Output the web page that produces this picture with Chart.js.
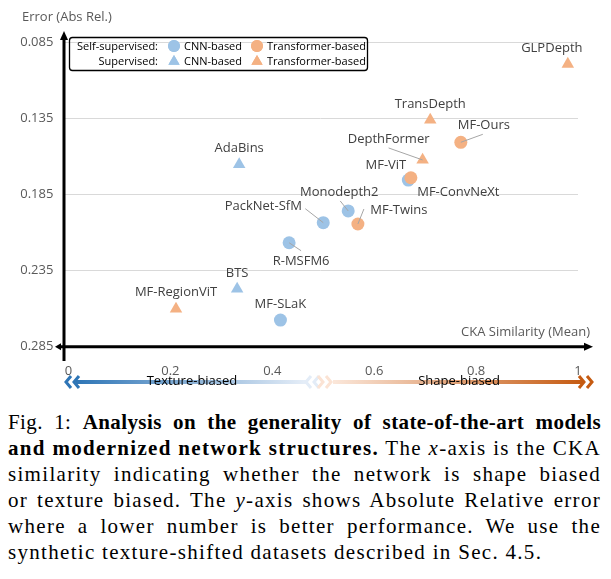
<!DOCTYPE html>
<html>
<head>
<meta charset="utf-8">
<script src="https://cdn.jsdelivr.net/npm/chart.js@4.4.0/dist/chart.umd.min.js"></script>
<style>
  body { margin: 0; background: #fff; width: 611px; height: 579px; overflow: hidden; }
  #wrap { position: relative; width: 611px; height: 398px; }
  #caption {
    position: absolute; left: 8px; top: 409px; width: 593px;
    font-family: "Liberation Serif", serif; font-size: 21px; line-height: 26px;
    letter-spacing: 1.3px; color: #000;
  }
  #caption div { text-align: justify; text-align-last: justify; white-space: nowrap; }
  #caption div.first { letter-spacing: 0.4px; }
  #caption div.last { text-align-last: left; }
</style>
</head>
<body>
<div id="wrap"><canvas id="chart" width="611" height="398"></canvas></div>
<div id="caption">
  <div class="first">Fig. 1: <b>Analysis on the generality of state-of-the-art models</b></div>
  <div><b>and modernized network structures.</b> The <i>x</i>-axis is the CKA</div>
  <div>similarity indicating whether the network is shape biased</div>
  <div>or texture biased. The <i>y</i>-axis shows Absolute Relative error</div>
  <div>where a lower number is better performance. We use the</div>
  <div class="last">synthetic texture-shifted datasets described in Sec. 4.5.</div>
</div>
<script>
// values
const selfTransNames = ['MF-Ours', 'MF-ViT', 'MF-Twins'];
const selfTransX = [0.770, 0.672, 0.568];
const selfTransY = [0.1507, 0.1740, 0.2044];

const selfCnnNames = ['MF-ConvNeXt', 'Monodepth2', 'PackNet-SfM', 'R-MSFM6', 'MF-SLaK'];
const selfCnnX = [0.667, 0.549, 0.500, 0.433, 0.416];
const selfCnnY = [0.1755, 0.1958, 0.2035, 0.2167, 0.2675];

const supTransNames = ['GLPDepth', 'TransDepth', 'DepthFormer', 'MF-RegionViT'];
const supTransX = [0.980, 0.710, 0.695, 0.211];
const supTransY = [0.0993, 0.1360, 0.1623, 0.2602];

const supCnnNames = ['AdaBins', 'BTS'];
const supCnnX = [0.335, 0.331];
const supCnnY = [0.1652, 0.2471];

const xTicks = [0, 0.2, 0.4, 0.6, 0.8, 1];
const xTickLabels = ['0', '0.2', '0.4', '0.6', '0.8', '1'];
const yTicks = [0.085, 0.135, 0.185, 0.235, 0.285];
const yTickLabels = ['0.085', '0.135', '0.185', '0.235', '0.285'];

// where each name sits relative to its mark, plus optional leader line end
const labelLayout = {
  'GLPDepth':     { dx: -16, dy: -16 },
  'TransDepth':   { dx: 0,   dy: -16 },
  'MF-Ours':      { dx: 23,  dy: -17, leader: [22, -8] },
  'DepthFormer':  { dx: -34, dy: -21, leader: [-34, -12] },
  'MF-ViT':       { dx: -25, dy: -12 },
  'MF-ConvNeXt':  { dx: 50,  dy: 12 },
  'Monodepth2':   { dx: -9,  dy: -19, leader: [-8, -10] },
  'MF-Twins':     { dx: 41,  dy: -14, leader: [6, -15] },
  'PackNet-SfM':  { dx: -60, dy: -16, leader: [-18, -14] },
  'R-MSFM6':      { dx: 12,  dy: 19,  leader: [12, 8] },
  'BTS':          { dx: 0,   dy: -16 },
  'MF-RegionViT': { dx: 0,   dy: -17 },
  'MF-SLaK':      { dx: 0,   dy: -16 },
  'AdaBins':      { dx: 0,   dy: -16 }
};

const BLUE = '#9DC3E6';
const ORANGE = '#F4B183';
const FONT = '"Open Sans", sans-serif';

function points(xs, ys) {
  return xs.map((x, i) => ({ x: x, y: ys[i] }));
}

function dataset(names, xs, ys, color, style) {
  return {
    names: names,
    data: points(xs, ys),
    backgroundColor: color,
    borderWidth: 0,
    pointStyle: style,
    pointRadius: style === 'circle' ? 6.5 : 7.2,
    pointHoverRadius: style === 'circle' ? 6.5 : 7.2
  };
}

function chevron(ctx, x, y, dir, color) {
  ctx.strokeStyle = color;
  ctx.lineWidth = 3;
  ctx.beginPath();
  ctx.moveTo(x - dir * 4, y - 6);
  ctx.lineTo(x + dir * 1, y);
  ctx.lineTo(x - dir * 4, y + 6);
  ctx.stroke();
}

const decorations = {
  id: 'decorations',
  beforeDatasetsDraw(chart) {
    const ctx = chart.ctx;
    const a = chart.chartArea;
    const y0 = chart.scales.y.getPixelForValue(0.285);
    ctx.save();
    ctx.strokeStyle = '#000';
    ctx.fillStyle = '#000';
    ctx.lineWidth = 3;
    // y axis
    ctx.beginPath();
    ctx.moveTo(a.left + 0.6, 361);
    ctx.lineTo(a.left + 0.6, 38);
    ctx.stroke();
    ctx.beginPath();
    ctx.moveTo(a.left + 0.6, 31);
    ctx.lineTo(a.left - 3.4, 40);
    ctx.lineTo(a.left + 4.6, 40);
    ctx.fill();
    // x axis
    ctx.beginPath();
    ctx.moveTo(59, y0);
    ctx.lineTo(586, y0);
    ctx.stroke();
    ctx.beginPath();
    ctx.moveTo(593, y0);
    ctx.lineTo(584, y0 - 4);
    ctx.lineTo(584, y0 + 4);
    ctx.fill();
    ctx.beginPath();
    ctx.moveTo(55, y0);
    ctx.lineTo(61, y0 - 3.5);
    ctx.lineTo(61, y0 + 3.5);
    ctx.fill();
    ctx.restore();
  },
  afterDraw(chart) {
    const ctx = chart.ctx;
    ctx.save();

    // data labels
    ctx.font = '13px ' + FONT;
    ctx.textAlign = 'center';
    ctx.textBaseline = 'middle';
    chart.data.datasets.forEach((ds, i) => {
      const meta = chart.getDatasetMeta(i);
      meta.data.forEach((pt, j) => {
        const lay = labelLayout[ds.names[j]];
        if (lay.leader) {
          ctx.strokeStyle = '#A6A6A6';
          ctx.lineWidth = 1;
          ctx.beginPath();
          ctx.moveTo(pt.x, pt.y);
          ctx.lineTo(pt.x + lay.leader[0], pt.y + lay.leader[1]);
          ctx.stroke();
        }
        ctx.fillStyle = '#404040';
        ctx.fillText(ds.names[j], pt.x + lay.dx, pt.y + lay.dy);
      });
    });

    // axis titles
    ctx.fillStyle = '#595959';
    ctx.textAlign = 'left';
    ctx.fillText('Error (Abs Rel.)', 22, 17);
    ctx.textAlign = 'right';
    ctx.fillText('CKA Similarity (Mean)', 590, 332);

    // legend box
    ctx.strokeStyle = '#000';
    ctx.lineWidth = 1.3;
    ctx.beginPath();
    if (ctx.roundRect) ctx.roundRect(69.5, 37.5, 298, 33, 3);
    else ctx.rect(69.5, 37.5, 298, 33);
    ctx.stroke();
    ctx.font = '11px ' + FONT;
    ctx.fillStyle = '#000';
    ctx.textAlign = 'right';
    ctx.fillText('Self-supervised:', 158, 46.5);
    ctx.fillText('Supervised:', 158, 61.5);
    ctx.textAlign = 'left';
    ctx.fillText('CNN-based', 184, 46.5);
    ctx.fillText('CNN-based', 184, 61.5);
    ctx.fillText('Transformer-based', 267, 46.5);
    ctx.fillText('Transformer-based', 267, 61.5);
    const legendMarks = [
      ['circle', BLUE, 174, 46], ['circle', ORANGE, 257, 46],
      ['triangle', BLUE, 174, 61.5], ['triangle', ORANGE, 257, 61.5]
    ];
    legendMarks.forEach(m => {
      ctx.fillStyle = m[1];
      Chart.helpers.drawPoint(ctx, { pointStyle: m[0], radius: m[0] === 'circle' ? 6 : 6.5, borderWidth: 0 }, m[2], m[3]);
      ctx.fill();
    });

    // texture / shape bar
    const by = 382;
    let g = ctx.createLinearGradient(76, 0, 306, 0);
    g.addColorStop(0, '#2E75B6');
    g.addColorStop(1, '#E6EEF8');
    ctx.fillStyle = g;
    ctx.fillRect(76, by - 2, 230, 4);
    g = ctx.createLinearGradient(333, 0, 584, 0);
    g.addColorStop(0, '#FBE7DA');
    g.addColorStop(1, '#C55A11');
    ctx.fillStyle = g;
    ctx.fillRect(333, by - 2, 250, 4);
    chevron(ctx, 67, by, -1, '#2E75B6');
    chevron(ctx, 75, by, -1, '#2E75B6');
    chevron(ctx, 307, by, -1, '#E3ECF7');
    chevron(ctx, 315, by, -1, '#E3ECF7');
    chevron(ctx, 322, by, 1, '#FBE3D4');
    chevron(ctx, 330, by, 1, '#FBE3D4');
    chevron(ctx, 583, by, 1, '#C55A11');
    chevron(ctx, 591, by, 1, '#C55A11');
    ctx.font = '13px ' + FONT;
    ctx.fillStyle = '#000';
    ctx.textAlign = 'center';
    ctx.fillText('Texture-biased', 192, 381);
    ctx.fillText('Shape-biased', 459, 381);

    ctx.restore();
  }
};

new Chart(document.getElementById('chart'), {
  type: 'scatter',
  data: {
    datasets: [
      dataset(selfTransNames, selfTransX, selfTransY, ORANGE, 'circle'),
      dataset(selfCnnNames, selfCnnX, selfCnnY, BLUE, 'circle'),
      dataset(supTransNames, supTransX, supTransY, ORANGE, 'triangle'),
      dataset(supCnnNames, supCnnX, supCnnY, BLUE, 'triangle')
    ]
  },
  options: {
    responsive: false,
    animation: false,
    layout: { padding: { top: 42.3, right: 33, left: 0, bottom: 0 } },
    plugins: { legend: { display: false }, tooltip: { enabled: false } },
    scales: {
      x: {
        type: 'linear',
        min: -0.01,
        max: 1.0,
        afterBuildTicks: s => { s.ticks = xTicks.map(v => ({ value: v })); },
        afterFit: s => { s.height = 398 - 346.7; },
        grid: { display: false },
        border: { display: false },
        ticks: {
          padding: 9,
          color: '#595959',
          font: { family: FONT, size: 13 },
          callback: (v, i) => xTickLabels[i]
        }
      },
      y: {
        type: 'linear',
        reverse: true,
        min: 0.085,
        max: 0.285,
        afterBuildTicks: s => { s.ticks = yTicks.map(v => ({ value: v })); },
        afterFit: s => { s.width = 63.4; },
        grid: {
          drawTicks: false,
          color: c => (c.tick && c.tick.value === 0.285 ? 'rgba(0,0,0,0)' : '#D9D9D9'),
          lineWidth: 1
        },
        border: { display: false },
        ticks: {
          padding: 10,
          color: '#595959',
          font: { family: FONT, size: 13 },
          callback: (v, i) => yTickLabels[i]
        }
      }
    }
  },
  plugins: [decorations]
});
</script>
</body>
</html>
